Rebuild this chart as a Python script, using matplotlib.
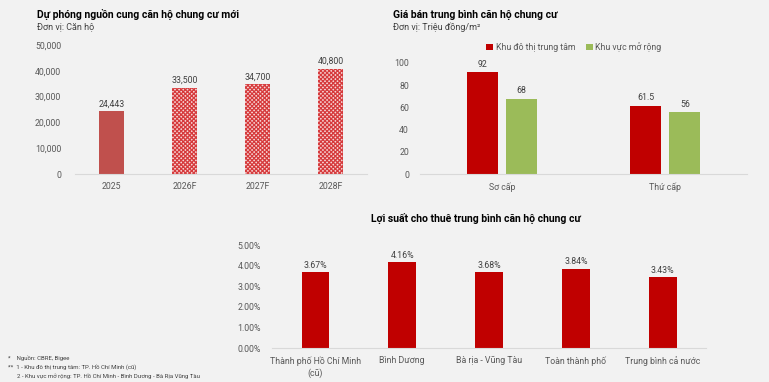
import matplotlib.pyplot as plt
import numpy as np
from matplotlib.ticker import FuncFormatter, PercentFormatter

plt.rcParams['font.family'] = ['Roboto', 'DejaVu Sans']
plt.rcParams['hatch.linewidth'] = 0.9

# Data
supply_years = ['2025', '2026F', '2027F', '2028F']
supply_values = [24443, 33500, 34700, 40800]

price_groups = ['Sơ cấp', 'Thứ cấp']
price_center = [92, 61.5]
price_expand = [68, 56]
price_labels = ['Khu đô thị trung tâm', 'Khu vực mở rộng']

yield_regions = ['Thành phố Hồ Chí Minh\n(cũ)', 'Bình Dương', 'Bà rịa - Vũng Tàu',
                 'Toàn thành phố', 'Trung bình cả nước']
yield_values = [0.0367, 0.0416, 0.0368, 0.0384, 0.0343]

BG = '#f2f2f2'
TXT = '#595959'
DARK = '#404040'
RED = '#c00000'
GREEN = '#9bbb59'
FS = 6.3


def style_axes(ax):
    ax.set_facecolor(BG)
    for s in ['top', 'right', 'left']:
        ax.spines[s].set_visible(False)
    ax.spines['bottom'].set_color('#d9d9d9')
    ax.spines['bottom'].set_linewidth(0.8)
    ax.tick_params(axis='both', length=0, labelsize=FS, colors=TXT)
    ax.tick_params(axis='y', pad=8)
    ax.tick_params(axis='x', pad=6)


fig = plt.figure(figsize=(7.69, 3.82), dpi=100)
fig.patch.set_facecolor(BG)

# Chart 1: supply forecast
ax1 = fig.add_axes([0.0975, 0.5445, 0.3797, 0.3377])
style_axes(ax1)
x1 = np.arange(len(supply_years))
for i, v in enumerate(supply_values):
    if i == 0:
        ax1.bar(x1[i], v, width=0.33, color='#c0504d', linewidth=0)
    else:
        ax1.bar(x1[i], v, width=0.33, facecolor='#f6d4d4', edgecolor='#d63a3c',
                hatch='xxxxxxxx', linewidth=0)
    ax1.text(x1[i], v + 1000, f'{v:,}', ha='center', va='bottom', fontsize=FS, color=DARK)
ax1.set_xlim(-0.5, 3.5)
ax1.set_ylim(0, 50000)
ax1.set_yticks(np.arange(0, 50001, 10000))
ax1.yaxis.set_major_formatter(FuncFormatter(lambda v, p: f'{int(v):,}'))
ax1.set_xticks(x1)
ax1.set_xticklabels(supply_years)
ax1.tick_params(axis='y', pad=10)
fig.text(37 / 769, 1 - 15 / 382, 'Dự phóng nguồn cung căn hộ chung cư mới', fontsize=7.5,
         fontweight='bold', color='black', va='center')
fig.text(37 / 769, 1 - 27 / 382, 'Đơn vị: Căn hộ', fontsize=6.5, color=DARK, va='center')

# Chart 2: average price
ax2 = fig.add_axes([0.5462, 0.5445, 0.4252, 0.2906])
style_axes(ax2)
x2 = np.arange(len(price_groups))
off = 0.12
w = 0.19
ax2.bar(x2 - off, price_center, width=w, color=RED, linewidth=0, label=price_labels[0])
ax2.bar(x2 + off, price_expand, width=w, color=GREEN, linewidth=0, label=price_labels[1])
for xs, vals in [(x2 - off, price_center), (x2 + off, price_expand)]:
    for xx, v in zip(xs, vals):
        ax2.text(xx, v + 3, f'{v:g}', ha='center', va='bottom', fontsize=FS, color=DARK)
ax2.set_xlim(-0.5, 1.5)
ax2.set_ylim(0, 100)
ax2.set_yticks(np.arange(0, 101, 20))
ax2.set_xticks(x2)
ax2.set_xticklabels(price_groups)
leg = ax2.legend(loc='center', bbox_to_anchor=(0.47, 1.144), ncol=2, frameon=False,
                 fontsize=FS, handlelength=0.8, handleheight=0.8, handletextpad=0.3,
                 columnspacing=1.2)
for t in leg.get_texts():
    t.set_color(TXT)
fig.text(393 / 769, 1 - 15 / 382, 'Giá bán trung bình căn hộ chung cư', fontsize=7.5,
         fontweight='bold', color='black', va='center')
fig.text(393 / 769, 1 - 27 / 382, 'Đơn vị: Triệu đồng/m²', fontsize=6.5, color=DARK,
         va='center')

# Chart 3: rental yield
ax3 = fig.add_axes([0.3537, 0.0890, 0.5644, 0.2696])
style_axes(ax3)
x3 = np.arange(len(yield_regions))
ax3.bar(x3, yield_values, width=0.32, color=RED, linewidth=0)
for xx, v in zip(x3, yield_values):
    ax3.text(xx, v + 0.0012, f'{v * 100:.2f}%', ha='center', va='bottom', fontsize=FS,
             color=DARK)
ax3.set_xlim(-0.5, 4.5)
ax3.set_ylim(0, 0.05)
ax3.set_yticks(np.arange(0, 0.0501, 0.01))
ax3.yaxis.set_major_formatter(PercentFormatter(1.0, decimals=2))
ax3.set_xticks(x3)
ax3.set_xticklabels(yield_regions, linespacing=1.4)
ax3.tick_params(axis='y', pad=8)
fig.text(476 / 769, 1 - 219 / 382, 'Lợi suất cho thuê trung bình căn hộ chung cư',
         fontsize=7.5, fontweight='bold', color='black', ha='center', va='center')

# Footnotes
notes = ['*    Nguồn: CBRE, Bigee',
         '**  1 - Khu đô thị trung tâm: TP. Hồ Chí Minh (cũ)',
         '      2 - Khu vực mở rộng: TP. Hồ Chí Minh - Bình Dương - Bà Rịa Vũng Tàu']
for i, n in enumerate(notes):
    fig.text(8 / 769, 1 - (358 + i * 9) / 382, n, fontsize=4.3, color=DARK, va='center')

fig.savefig('out.png', dpi=100, facecolor=BG)
